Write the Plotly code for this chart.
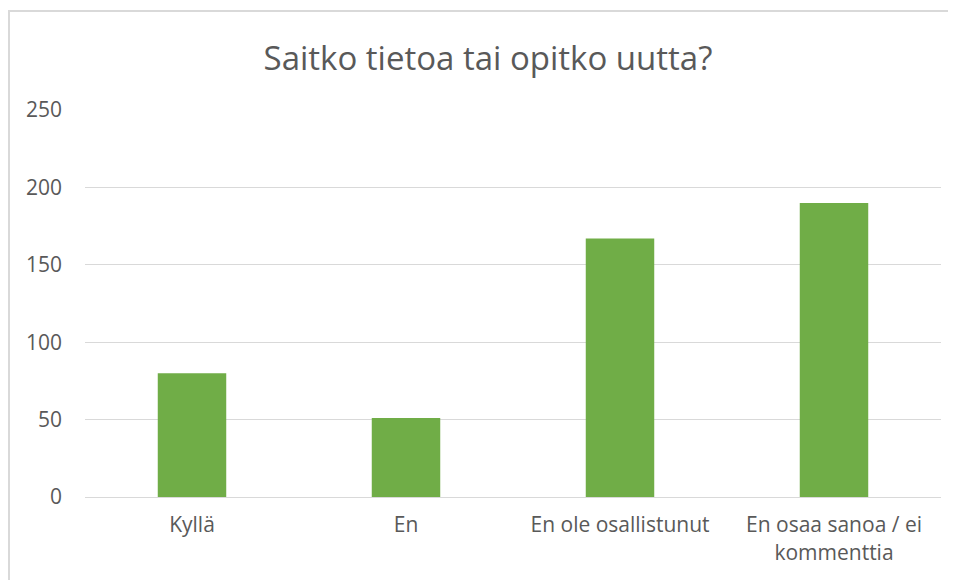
import plotly.graph_objects as go

categories = ["Kyllä", "En", "En ole osallistunut", "En osaa sanoa / ei<br>kommenttia"]
values = [80, 51, 167, 190]
y_ticks = [0, 50, 100, 150, 200, 250]

OFF = 8  # default page body margin
W, H = 956 - OFF, 580 - OFF
L, R, T, B = 85 - OFF, 15, 110 - OFF, 83
pw, ph = W - L - R, H - T - B

fig = go.Figure(go.Bar(x=categories, y=values, marker=dict(color="#70AD47", line=dict(width=0)),
                       hoverinfo="x+y"))

font = "'Open Sans', sans-serif"
fig.update_layout(
    width=W, height=H,
    margin=dict(l=L, r=R, t=T, b=B),
    paper_bgcolor="white", plot_bgcolor="white",
    bargap=0.68,
    showlegend=False,
    title=dict(text="Saitko tietoa tai opitko uutta?", x=(488 - OFF) / W, xanchor="center",
               y=1 - (58 - OFF) / H, yanchor="middle",
               font=dict(family=font, size=33, color="#595959")),
    font=dict(family=font, size=21, color="#595959"),
    xaxis=dict(showgrid=False, showline=True, linecolor="#D9D9D9", linewidth=1,
               ticks="", ticklabelstandoff=9, tickfont=dict(size=21, color="#595959")),
    yaxis=dict(range=[0, 250], tickvals=y_ticks, showgrid=True, gridcolor="#D9D9D9",
               gridwidth=1, zeroline=False, showline=False, ticks="",
               ticklabelstandoff=22, tickfont=dict(size=21, color="#595959")),
    shapes=[dict(type="rect", xref="paper", yref="paper",
                 x0=(1 - L) / pw, x1=(W + 20 - L) / pw,
                 y0=(ph + T - (H + 20)) / ph, y1=(ph + T - 3) / ph,
                 line=dict(color="#D9D9D9", width=2), fillcolor="rgba(0,0,0,0)", layer="below")],
)

fig.write_html("out.html")
